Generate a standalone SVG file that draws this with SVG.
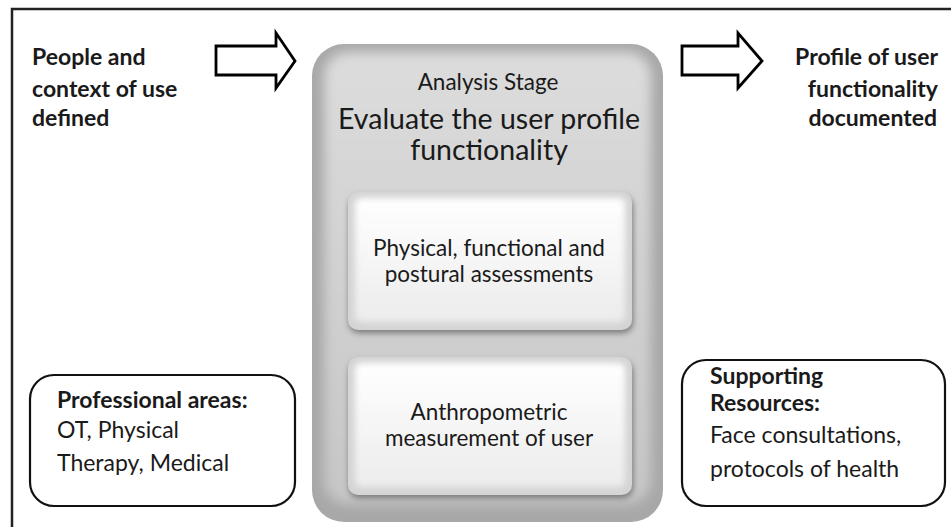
<svg xmlns="http://www.w3.org/2000/svg" width="951" height="527" viewBox="0 0 951 527">
<style>
.t{font-family:Lato,"Open Sans","Liberation Sans",sans-serif;fill:#1a1a1a}
.b{font-weight:bold}
.box{fill:#fff;stroke:#111;stroke-width:2.2}
.arrow{fill:#fff;stroke:#000;stroke-width:2.8;stroke-linejoin:miter}
</style>
<defs>
<linearGradient id="panelG" x1="0" y1="0" x2="0" y2="1">
<stop offset="0" stop-color="#dcdcdc"/>
<stop offset="1" stop-color="#c6c6c6"/>
</linearGradient>
<linearGradient id="cardG" x1="0" y1="0" x2="0" y2="1">
<stop offset="0" stop-color="#ffffff"/>
<stop offset="1" stop-color="#ececec"/>
</linearGradient>
<filter id="soft" x="-10%" y="-10%" width="120%" height="120%"><feGaussianBlur stdDeviation="6"/></filter>
<filter id="soft2" x="-10%" y="-10%" width="120%" height="120%"><feGaussianBlur stdDeviation="3"/></filter>
</defs>
<rect width="951" height="527" fill="#fff"/>
<path d="M12,527 V9 H951" fill="none" stroke="#222" stroke-width="2.5"/>

<g id="input">
<text class="t b" font-size="23"><tspan x="32" y="65">People and</tspan><tspan x="32" y="97">context of use</tspan><tspan x="32" y="126">defined</tspan></text>
</g>

<g id="output">
<text class="t b" font-size="23" text-anchor="end"><tspan x="938" y="65">Profile of user</tspan><tspan x="938" y="97">functionality</tspan><tspan x="937" y="126">documented</tspan></text>
</g>

<g id="analysis-stage">
<rect x="312" y="44" width="351" height="478" rx="32" fill="#a8a8a8"/>
<rect x="324" y="52" width="327" height="452" rx="24" fill="url(#panelG)" filter="url(#soft)"/>
<text class="t" font-size="22.5" text-anchor="middle" x="488" y="90">Analysis Stage</text>
<text class="t" font-size="28.5" text-anchor="middle"><tspan x="489" y="129">Evaluate the user profile</tspan><tspan x="489" y="160">functionality</tspan></text>
</g>

<g id="assessments">
<rect x="349" y="196" width="284" height="137" rx="10" fill="#777" filter="url(#soft2)"/>
<rect x="348" y="192" width="284" height="138" rx="10" fill="#d4d4d4"/>
<rect x="355" y="198" width="270" height="124" rx="6" fill="url(#cardG)" filter="url(#soft2)"/>
<text class="t" font-size="22.5" text-anchor="middle"><tspan x="489" y="256">Physical, functional and</tspan><tspan x="489" y="282">postural assessments</tspan></text>
</g>

<g id="anthropometric">
<rect x="349" y="361" width="284" height="137" rx="10" fill="#777" filter="url(#soft2)"/>
<rect x="348" y="357" width="284" height="138" rx="10" fill="#d4d4d4"/>
<rect x="355" y="363" width="270" height="124" rx="6" fill="url(#cardG)" filter="url(#soft2)"/>
<text class="t" font-size="22.5" text-anchor="middle"><tspan x="489" y="420">Anthropometric</tspan><tspan x="489" y="446">measurement of user</tspan></text>
</g>

<g id="professional-areas">
<rect class="box" x="30" y="375" width="265" height="131" rx="24"/>
<text class="t b" font-size="23" x="57" y="408">Professional areas:</text>
<text class="t" font-size="23"><tspan x="57" y="438">OT, Physical</tspan><tspan x="57" y="471">Therapy, Medical</tspan></text>
</g>

<g id="supporting-resources">
<rect class="box" x="682" y="360" width="263" height="146" rx="24"/>
<text class="t b" font-size="23"><tspan x="710" y="384">Supporting</tspan><tspan x="710" y="411">Resources:</tspan></text>
<text class="t" font-size="23"><tspan x="710" y="443">Face consultations,</tspan><tspan x="710" y="477">protocols of health</tspan></text>
</g>

<g id="connectors">
<polygon class="arrow" points="216,46 276,46 276,33 295,61 276,88 276,75 216,75"/>
<polygon class="arrow" points="682,46 738,46 738,33 762,61 738,88 738,75 682,75"/>
</g>
</svg>
